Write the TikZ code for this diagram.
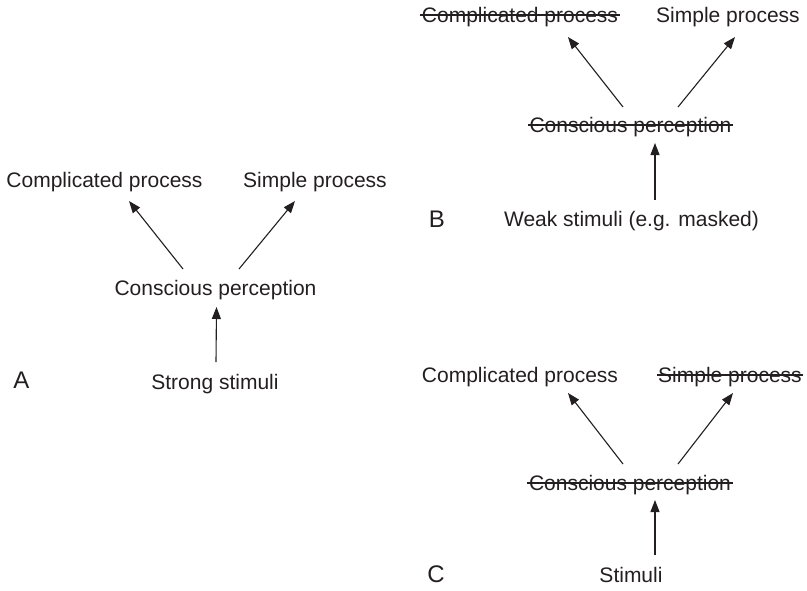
\documentclass[tikz,border=0pt]{standalone}
\usepackage{fontspec}
\setmainfont{Liberation Sans}
\usetikzlibrary{arrows.meta}
\definecolor{ink}{RGB}{35,31,32}

\begin{document}
\begin{tikzpicture}[x=1pt,y=-1pt,
        every node/.style={inner sep=0pt,anchor=base,text=ink,font=\fontsize{21}{25}\selectfont},
        panel/.style={font=\fontsize{24}{28}\selectfont},
        link/.style={ink,line width=1.1pt,arrows={-Triangle[length=12pt,width=9pt]}},
        struck/.style={ink,line width=1.1pt}]
    \useasboundingbox (0,0) rectangle (807,590);

    % panel A
    \node[panel] (labA) at (21.5,388.5) {A};
    \node (cA) at (104.5,187) {Complicated process};
    \node (sA) at (315,187) {Simple process};
    \node (pA) at (215.5,295.5) {Conscious perception};
    \node (tA) at (215,389.5) {Strong stimuli};

    \draw[link] ([shift={(-32.5,-26.5)}]pA.base) -- ([shift={(24.5,14)}]cA.base);
    \draw[link] ([shift={(23.5,-26.5)}]pA.base) -- ([shift={(-20,14)}]sA.base);
    \draw[link] ([shift={(1,-27.5)}]tA.base) -- ([shift={(1,11.5)}]pA.base);

    % panel B
    \node[panel] (labB) at (437,227) {B};
    \node (cB) at (520,22.5) {Complicated process};
    \node (sB) at (728,22.5) {Simple process};
    \node (pB) at (630.5,132.5) {Conscious perception};
    \node (tB) at (631.5,226.5) {Weak stimuli (e.g. masked)};

    \draw[struck] ([shift={(-1.5pt,7.5pt)}]cB.base west) -- ([shift={(1.5pt,7.5pt)}]cB.base east);
    \draw[struck] ([shift={(-1.5pt,7.5pt)}]pB.base west) -- ([shift={(1.5pt,7.5pt)}]pB.base east);

    \draw[link] ([shift={(-7.5,-25.5)}]pB.base) -- ([shift={(48,14.5)}]cB.base);
    \draw[link] ([shift={(47.5,-25.5)}]pB.base) -- ([shift={(7,14.5)}]sB.base);
    \draw[link] ([shift={(23.5,-26.5)}]tB.base) -- ([shift={(24.5,10.5)}]pB.base);

    % panel C
    \node[panel] (labC) at (436,582.5) {C};
    \node (cC) at (520,382.5) {Complicated process};
    \node (sC) at (730,382.5) {Simple process};
    \node (pC) at (630,490.5) {Conscious perception};
    \node (tC) at (631,582.5) {Stimuli};

    \draw[struck] ([shift={(-1.5pt,7.5pt)}]sC.base west) -- ([shift={(1.5pt,7.5pt)}]sC.base east);
    \draw[struck] ([shift={(-1.5pt,7.5pt)}]pC.base west) -- ([shift={(1.5pt,7.5pt)}]pC.base east);

    \draw[link] ([shift={(-7,-26.5)}]pC.base) -- ([shift={(48,10.5)}]cC.base);
    \draw[link] ([shift={(48,-26.5)}]pC.base) -- ([shift={(3,10.5)}]sC.base);
    \draw[link] ([shift={(24,-27.5)}]tC.base) -- ([shift={(25,9.5)}]pC.base);
\end{tikzpicture}
\end{document}
